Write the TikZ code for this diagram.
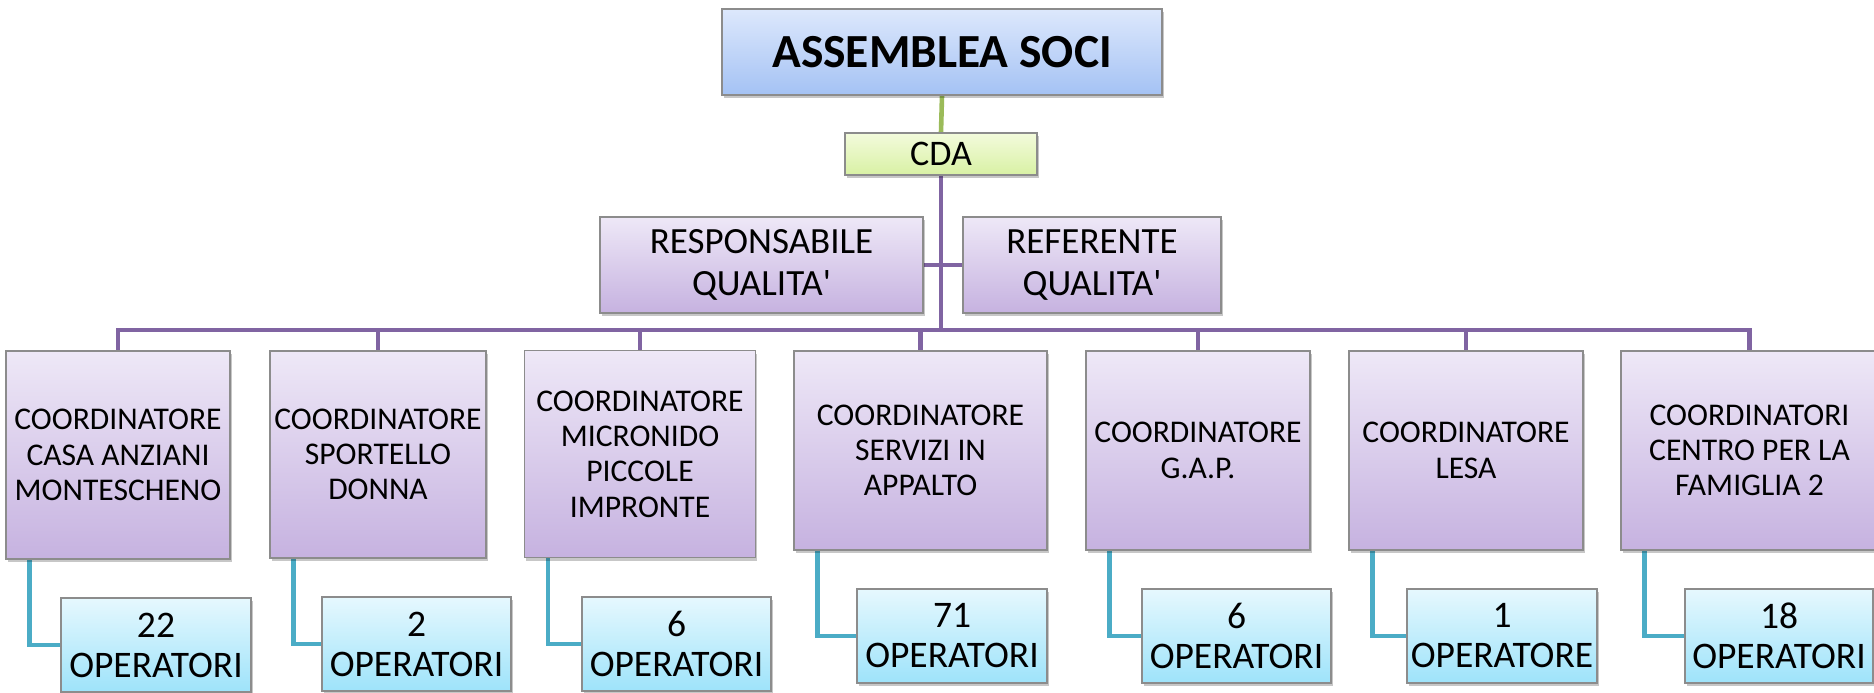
\documentclass[tikz,border=0pt]{standalone}
\usepackage{fontspec}
\setmainfont{Carlito}[Ligatures=TeXOff]
\usetikzlibrary{shadows,backgrounds}
\definecolor{borderg}{HTML}{8C8C8C}
\definecolor{purpleline}{HTML}{8064A2}
\definecolor{tealline}{HTML}{4BACC6}
\definecolor{greenline}{HTML}{9BBB59}
\definecolor{bluetop}{HTML}{DDE8FC}
\definecolor{bluebot}{HTML}{A4C2F4}
\definecolor{greentop}{HTML}{F3FBDC}
\definecolor{greenbot}{HTML}{D8F1A4}
\definecolor{purtop}{HTML}{EEE8F7}
\definecolor{purbot}{HTML}{C6B2E0}
\definecolor{cyantop}{HTML}{E6F8FE}
\definecolor{cyanbot}{HTML}{9EE3FA}
\tikzset{
  basebox/.style={draw=borderg, line width=1.3pt, rectangle, inner sep=1pt, align=center,
    drop shadow={shadow xshift=1.5pt, shadow yshift=-3pt, fill=black, opacity=0.22}},
  asmbox/.style={basebox, top color=bluetop, bottom color=bluebot,
    font=\fontsize{47.5}{52}\selectfont\bfseries},
  cdabox/.style={basebox, top color=greentop, bottom color=greenbot,
    font=\fontsize{36}{40}\selectfont},
  qbox/.style={basebox, top color=purtop, bottom color=purbot,
    font=\fontsize{37}{42}\selectfont},
  cbox/.style={basebox, top color=purtop, bottom color=purbot,
    font=\fontsize{31.6}{35.3}\selectfont},
  obox/.style={basebox, top color=cyantop, bottom color=cyanbot,
    font=\fontsize{37.5}{40}\selectfont},
  pline/.style={draw=purpleline, line width=4.6pt},
  tline/.style={draw=tealline, line width=4.6pt},
  gline/.style={draw=greenline, line width=4.6pt},
}
\begin{document}
\begin{tikzpicture}[x=1pt,y=-1pt]
\useasboundingbox (0,0) rectangle (1874,693);
\clip (0,0) rectangle (1874,693);

% top level
\node[asmbox, minimum width=440pt, minimum height=86pt] (asm) at (942,52) {ASSEMBLEA SOCI};
\node[cdabox, minimum width=192pt, minimum height=42pt] (cda) at (941,154) {CDA};
\coordinate (bar) at (941,330);

% coordinators
\node[cbox, minimum width=224pt, minimum height=208pt] (c1) at (118,455) {COORDINATORE\\CASA ANZIANI\\MONTESCHENO};
\node[cbox, minimum width=216pt, minimum height=207pt] (c2) at (378,454.5) {COORDINATORE\\SPORTELLO\\DONNA};
\node[cbox, minimum width=231pt, minimum height=207pt] (c3) at (640,454) {COORDINATORE\\MICRONIDO\\PICCOLE\\IMPRONTE};
\node[cbox, minimum width=253pt, minimum height=199pt] (c4) at (920.5,450.5) {COORDINATORE\\SERVIZI IN\\APPALTO};
\node[cbox, minimum width=224pt, minimum height=199pt] (c5) at (1198,450.5) {COORDINATORE\\G.A.P.};
\node[cbox, minimum width=234pt, minimum height=199pt] (c6) at (1466,450.5) {COORDINATORE\\LESA};
\node[cbox, minimum width=257pt, minimum height=199pt] (c7) at (1749.5,450.5) {COORDINATORI\\CENTRO PER LA\\FAMIGLIA 2};

% quality boxes
\node[qbox, minimum width=323pt, minimum height=96pt] (resp) at (761.5,265) {RESPONSABILE\\QUALITA'};
\node[qbox, minimum width=258pt, minimum height=96pt] (ref) at (1092,265) {REFERENTE\\QUALITA'};

% operators
\node[obox, minimum width=190pt, minimum height=94pt] (o1) at (156,645) {22\\OPERATORI};
\node[obox, minimum width=189pt, minimum height=94pt] (o2) at (416.5,644) {2\\OPERATORI};
\node[obox, minimum width=189pt, minimum height=94pt] (o3) at (676.5,644) {6\\OPERATORI};
\node[obox, minimum width=190pt, minimum height=94pt] (o4) at (952,636) {71\\OPERATORI};
\node[obox, minimum width=189pt, minimum height=94pt] (o5) at (1236.5,636) {6\\OPERATORI};
\node[obox, minimum width=190pt, minimum height=94pt] (o6) at (1502,636) {1\\OPERATORE};
\node[obox, minimum width=188pt, minimum height=94pt] (o7) at (1779,636) {18\\OPERATORI};

\begin{pgfonlayer}{background}
\fill[white] (0,0) rectangle (1874,693);
% green connector
\draw[gline] (asm.south) -- (cda.north);
% purple connectors
\draw[pline] (cda.south) -- (bar);
\draw[pline] (c1.north) -- (c1.north |- bar) -- (c7.north |- bar) -- (c7.north);
\foreach \i in {2,...,6}{\draw[pline] (c\i.north) -- (c\i.north |- bar);}
\draw[pline] (resp.east) -- (ref.west);
% teal connectors
\foreach \i in {1,...,7}{\draw[tline] ([xshift=24pt]c\i.south west) |- (o\i.west);}
\end{pgfonlayer}
\end{tikzpicture}
\end{document}
